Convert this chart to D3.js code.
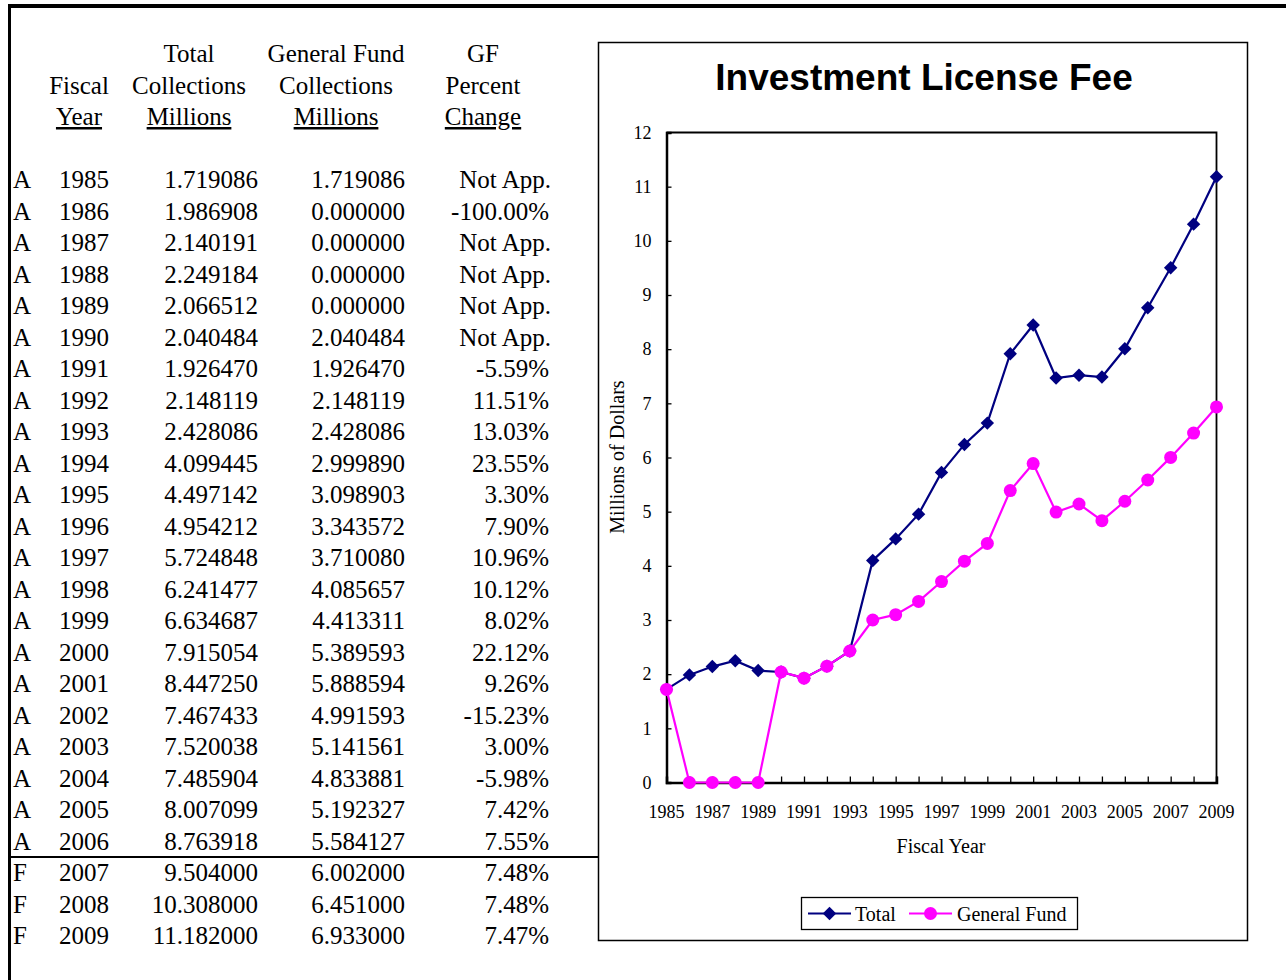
<!DOCTYPE html>
<html>
<head>
<meta charset="utf-8">
<script src="https://cdn.jsdelivr.net/npm/d3@7"></script>
<style>
  body { margin: 0; background: #fff; }
  svg text { font-family: "Liberation Serif", "Times New Roman", serif; }
</style>
</head>
<body>
<div id="chart"></div>
<script>
// table / chart data
var statusCodes = ["A","A","A","A","A","A","A","A","A","A","A","A","A","A","A","A","A","A","A","A","A","A","F","F","F"];
var years = [1985,1986,1987,1988,1989,1990,1991,1992,1993,1994,1995,1996,1997,1998,1999,2000,2001,2002,2003,2004,2005,2006,2007,2008,2009];
var totalColl = [1.719086,1.986908,2.140191,2.249184,2.066512,2.040484,1.926470,2.148119,2.428086,4.099445,4.497142,4.954212,5.724848,6.241477,6.634687,7.915054,8.447250,7.467433,7.520038,7.485904,8.007099,8.763918,9.504000,10.308000,11.182000];
var gfColl = [1.719086,0.000000,0.000000,0.000000,0.000000,2.040484,1.926470,2.148119,2.428086,2.999890,3.098903,3.343572,3.710080,4.085657,4.413311,5.389593,5.888594,4.991593,5.141561,4.833881,5.192327,5.584127,6.002000,6.451000,6.933000];
var gfPct = ["Not App.","-100.00%","Not App.","Not App.","Not App.","Not App.","-5.59%","11.51%","13.03%","23.55%","3.30%","7.90%","10.96%","10.12%","8.02%","22.12%","9.26%","-15.23%","3.00%","-5.98%","7.42%","7.55%","7.48%","7.48%","7.47%"];
var yTicks = [0,1,2,3,4,5,6,7,8,9,10,11,12];
var xTickLabels = [1985,1987,1989,1991,1993,1995,1997,1999,2001,2003,2005,2007,2009];

var W = 1286, H = 980;
var svg = d3.select("#chart").append("svg")
    .attr("width", W)
    .attr("height", H);

// page frame (top + left heavy rules)
svg.append("rect").attr("x", 8).attr("y", 4).attr("width", W - 8).attr("height", 4).attr("fill", "#000");
svg.append("rect").attr("x", 8).attr("y", 4).attr("width", 3).attr("height", H - 4).attr("fill", "#000");

// ---------- table ----------
var tbl = svg.append("g").style("font-size", "25px").attr("fill", "#000");

var headers = [
  {x: 79,  lines: ["", "Fiscal", "Year"]},
  {x: 189, lines: ["Total", "Collections", "Millions"]},
  {x: 336, lines: ["General Fund", "Collections", "Millions"]},
  {x: 483, lines: ["GF", "Percent", "Change"]}
];
var headY = [62, 94, 125];
headers.forEach(function(h) {
  h.lines.forEach(function(l, i) {
    tbl.append("text")
      .attr("x", h.x)
      .attr("y", headY[i])
      .attr("text-anchor", "middle")
      .style("text-decoration", i == 2 ? "underline" : null)
      .text(l);
  });
});

var rowY = d3.scalePoint().domain(years).range([188, 944]);

var rows = tbl.selectAll("g.row")
  .data(years)
  .enter().append("g")
  .attr("class", "row")
  .attr("transform", function(d) { return "translate(0," + rowY(d) + ")"; });

rows.append("text").attr("x", 13).text(function(d, i) { return statusCodes[i]; });
rows.append("text").attr("x", 109).attr("text-anchor", "end").text(function(d) { return d; });
rows.append("text").attr("x", 258).attr("text-anchor", "end").text(function(d, i) { return totalColl[i].toFixed(6); });
rows.append("text").attr("x", 405).attr("text-anchor", "end").text(function(d, i) { return gfColl[i].toFixed(6); });
rows.append("text").attr("x", function(d, i) { return gfPct[i] == "Not App." ? 551 : 549; })
  .attr("text-anchor", "end").text(function(d, i) { return gfPct[i]; });

// rule between actual and forecast
svg.append("line")
  .attr("x1", 10).attr("x2", 598)
  .attr("y1", 857).attr("y2", 857)
  .attr("stroke", "#000").attr("stroke-width", 2);

// ---------- chart ----------
svg.append("rect")
  .attr("x", 598.5).attr("y", 42.5)
  .attr("width", 649).attr("height", 898)
  .attr("fill", "#fff").attr("stroke", "#000").attr("stroke-width", 1.5);

svg.append("text")
  .attr("x", 924).attr("y", 90)
  .attr("text-anchor", "middle")
  .style("font-family", "'Liberation Sans', Arial, sans-serif")
  .style("font-weight", "bold")
  .style("font-size", "37px")
  .text("Investment License Fee");

var plot = {left: 666.5, top: 132.5, right: 1216.5, bottom: 782.5};

var x = d3.scalePoint().domain(years).range([plot.left, plot.right]);
var y = d3.scaleLinear().domain([0, 12]).range([plot.bottom, plot.top]);

// plot frame: top and right thin
svg.append("path")
  .attr("d", "M" + plot.left + "," + plot.top + "H" + plot.right + "V" + plot.bottom)
  .attr("fill", "none").attr("stroke", "#000").attr("stroke-width", 1.8);

// y axis
var yAxis = svg.append("g")
  .attr("transform", "translate(" + plot.left + ",0)")
  .call(d3.axisRight(y).tickValues(yTicks).tickSize(5).tickPadding(-22));
yAxis.select(".domain").attr("stroke-width", 2.5);
yAxis.selectAll(".tick line").attr("stroke-width", 1.3);
yAxis.selectAll(".tick text")
  .attr("text-anchor", "end")
  .attr("x", -15)
  .style("font-size", "18px")
  .style("font-family", "'Liberation Serif', serif");

// x axis
var xAxis = svg.append("g")
  .attr("transform", "translate(0," + plot.bottom + ")")
  .call(d3.axisTop(x).tickSize(6).tickFormat(""));
xAxis.select(".domain").attr("stroke-width", 2.5);
xAxis.selectAll(".tick line").attr("stroke-width", 1.3);

svg.append("g").selectAll("text")
  .data(xTickLabels)
  .enter().append("text")
  .attr("x", function(d) { return x(d); })
  .attr("y", plot.bottom + 35)
  .attr("text-anchor", "middle")
  .style("font-size", "18px")
  .text(function(d) { return d; });

// axis titles
svg.append("text")
  .attr("x", 941).attr("y", 853)
  .attr("text-anchor", "middle")
  .style("font-size", "20px")
  .text("Fiscal Year");

svg.append("text")
  .attr("transform", "translate(624,457) rotate(-90)")
  .attr("text-anchor", "middle")
  .style("font-size", "20px")
  .text("Millions of Dollars");

// series
var series = [
  {name: "Total", values: totalColl, color: "#000080", marker: "diamond"},
  {name: "General Fund", values: gfColl, color: "#FF00FF", marker: "circle"}
];

var line = d3.line()
  .x(function(d, i) { return x(years[i]); })
  .y(function(d) { return y(d); });

var diamond = d3.symbol().type(d3.symbolDiamond2).size(115);

function drawMarker(g, s) {
  if (s.marker == "diamond") {
    g.append("path").attr("d", diamond).attr("fill", s.color);
  } else {
    g.append("circle").attr("r", 6.5).attr("fill", s.color);
  }
}

series.forEach(function(s) {
  svg.append("path")
    .datum(s.values)
    .attr("d", line)
    .attr("fill", "none")
    .attr("stroke", s.color)
    .attr("stroke-width", 2.2);
  s.values.forEach(function(v, i) {
    var g = svg.append("g").attr("transform", "translate(" + x(years[i]) + "," + y(v) + ")");
    drawMarker(g, s);
  });
});

// legend
var leg = svg.append("g");
leg.append("rect")
  .attr("x", 801.5).attr("y", 897.5)
  .attr("width", 276).attr("height", 32)
  .attr("fill", "#fff").attr("stroke", "#000").attr("stroke-width", 1.3);

var legItems = [
  {s: series[0], x0: 808, x1: 851, tx: 855},
  {s: series[1], x0: 909, x1: 952, tx: 957}
];
legItems.forEach(function(it) {
  leg.append("line")
    .attr("x1", it.x0).attr("x2", it.x1)
    .attr("y1", 913.5).attr("y2", 913.5)
    .attr("stroke", it.s.color).attr("stroke-width", 2.2);
  var g = leg.append("g").attr("transform", "translate(" + ((it.x0 + it.x1) / 2) + ",913.5)");
  drawMarker(g, it.s);
  leg.append("text")
    .attr("x", it.tx).attr("y", 920.5)
    .style("font-size", "20px")
    .text(it.s.name);
});
</script>
</body>
</html>
